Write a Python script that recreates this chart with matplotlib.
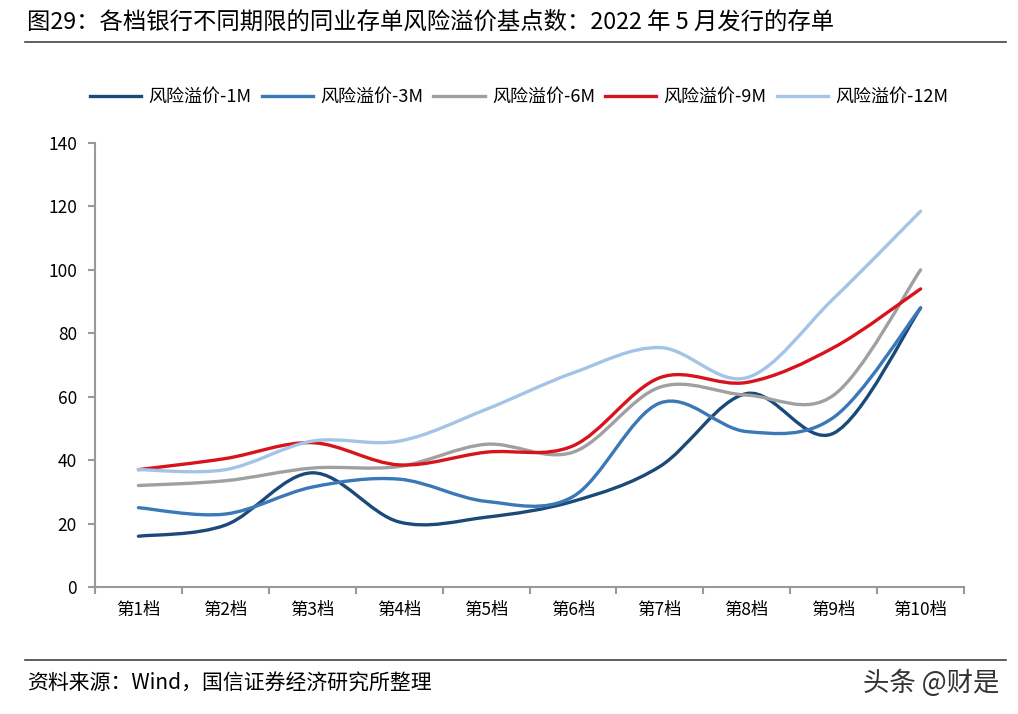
import numpy as np
import matplotlib
matplotlib.use("Agg")
import matplotlib.pyplot as plt
from matplotlib.path import Path
from matplotlib.patches import PathPatch
from matplotlib.lines import Line2D

plt.rcParams['font.family'] = ['Noto Sans CJK SC', 'DejaVu Sans']

# 数据
categories = ['第1档', '第2档', '第3档', '第4档', '第5档', '第6档', '第7档', '第8档', '第9档', '第10档']
series_names = ['风险溢价-1M', '风险溢价-3M', '风险溢价-6M', '风险溢价-9M', '风险溢价-12M']
v_1m = [16, 19.5, 36, 20.5, 22, 27, 38, 61, 48.5, 88]
v_3m = [25, 23, 31.5, 34, 27, 28.5, 58, 49, 53.5, 88]
v_6m = [32, 33.5, 37.5, 38, 45, 42.5, 63, 60.5, 60.5, 100]
v_9m = [37, 40.5, 45.5, 38.5, 42.5, 44.5, 66, 64.5, 75.5, 94]
v_12m = [37, 37, 46, 46, 56, 67.5, 75.5, 66, 91, 118.5]
yticks = [0, 20, 40, 60, 80, 100, 120, 140]

colors = ['#1b4a78', '#3a78b8', '#a0a0a0', '#d7141e', '#a3c4e6']


def smooth_path(xs, ys):
    # Excel 风格平滑线：Catmull-Rom 转三次贝塞尔
    xs = list(xs); ys = list(ys)
    n = len(xs)
    verts = [(xs[0], ys[0])]
    codes = [Path.MOVETO]
    for i in range(n - 1):
        x0, y0 = (xs[i - 1], ys[i - 1]) if i > 0 else (xs[i], ys[i])
        x1, y1 = xs[i], ys[i]
        x2, y2 = xs[i + 1], ys[i + 1]
        x3, y3 = (xs[i + 2], ys[i + 2]) if i + 2 < n else (x2, y2)
        c1 = (x1 + (x2 - x0) / 6, y1 + (y2 - y0) / 6)
        c2 = (x2 - (x3 - x1) / 6, y2 - (y3 - y1) / 6)
        verts += [c1, c2, (x2, y2)]
        codes += [Path.CURVE4] * 3
    return Path(verts, codes)


fig = plt.figure(figsize=(10.18, 7.14), dpi=100)
ax = fig.add_axes([0.0933, 0.1779, 0.8537, 0.6218])

x = np.arange(len(categories))
all_series = [v_1m, v_3m, v_6m, v_9m, v_12m]
handles = []
for vals, name, c in zip(all_series, series_names, colors):
    p = PathPatch(smooth_path(x, vals), facecolor='none', edgecolor=c, lw=2.4,
                  capstyle='round', joinstyle='round')
    ax.add_patch(p)
    handles.append(Line2D([0], [0], color=c, lw=2.4, label=name))

ax.set_xlim(-0.5, len(categories) - 0.5)
ax.set_ylim(0, 140)
ax.set_yticks(yticks)
ax.set_yticklabels([str(t) for t in yticks], fontsize=12.5)
ax.set_xticks(np.arange(-0.5, len(categories), 1.0))
ax.set_xticklabels([])
ax.set_xticks(x, minor=True)
ax.set_xticklabels(categories, minor=True, fontsize=12.5)
ax.tick_params(axis='x', which='minor', length=0, pad=10)
ax.tick_params(axis='x', which='major', length=5, color='#999999', width=1.5)
ax.tick_params(axis='y', length=5, color='#999999', width=1.5, pad=8)
for s in ['top', 'right']:
    ax.spines[s].set_visible(False)
for s in ['left', 'bottom']:
    ax.spines[s].set_color('#999999')
    ax.spines[s].set_linewidth(1.5)

fig.legend(handles=handles, loc='center', bbox_to_anchor=(0.51, 0.864), ncol=5,
           frameon=False, fontsize=13, handlelength=2.85, columnspacing=0.55,
           handletextpad=0.4)

fig.text(0.027, 0.969, '图29：各档银行不同期限的同业存单风险溢价基点数：2022 年 5 月发行的存单',
         fontsize=16.8, va='center', ha='left')
fig.add_artist(Line2D([0.025, 0.988], [0.941, 0.941], color='#444444', lw=1.2))
fig.add_artist(Line2D([0.025, 0.988], [0.075, 0.075], color='#444444', lw=1.2))
fig.text(0.027, 0.043, '资料来源：Wind，国信证券经济研究所整理', fontsize=15,
         va='center', ha='left')
fig.text(0.982, 0.043, '头条 @财是', fontsize=19, va='center', ha='right',
         color='#333333')

fig.savefig('out.png', dpi=100)
